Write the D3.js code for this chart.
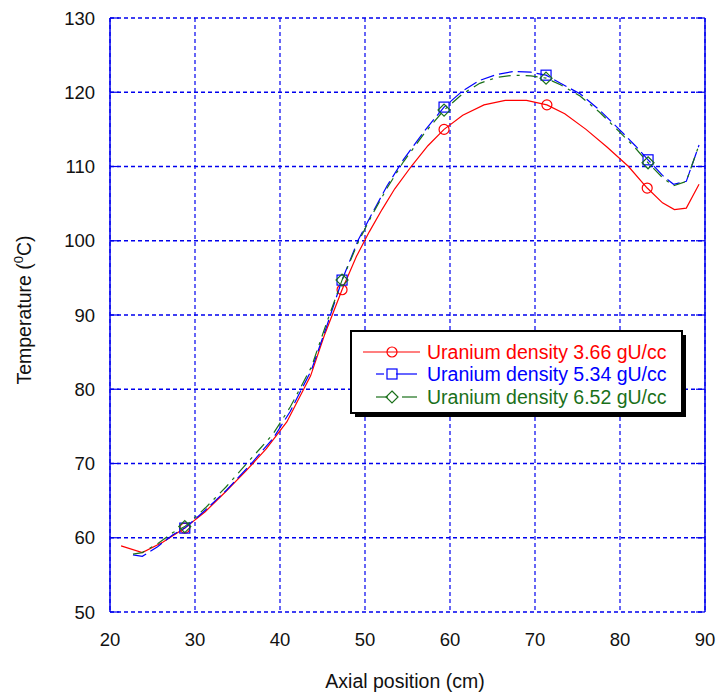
<!DOCTYPE html>
<html>
<head>
<meta charset="utf-8">
<script src="https://cdn.jsdelivr.net/npm/d3@7"></script>
<style>
  body { margin: 0; background: #fff; }
  svg { font-family: Arial, "Liberation Sans", sans-serif; }
</style>
</head>
<body>
<svg id="chart" width="721" height="693"></svg>
<script>
// series: [axial position cm, temperature C]
const red366 = [
  [21.3, 58.9], [23.8, 58.0], [26.2, 59.4], [28.8, 61.3], [31.2, 63.5],
  [33.6, 66.2], [36.0, 69.0], [38.4, 72.0], [40.8, 75.6], [43.6, 81.8],
  [45.2, 87.2], [47.3, 93.4], [49.0, 97.9], [50.5, 101.2], [52.0, 104.2],
  [53.5, 107.0], [55.5, 110.1], [57.4, 112.8], [59.3, 115.0], [61.5, 116.9],
  [64.0, 118.3], [66.5, 118.9], [69.0, 118.9], [71.4, 118.3], [73.5, 117.1],
  [76.0, 115.0], [78.5, 112.6], [81.0, 110.0], [83.2, 107.1], [85.0, 105.1],
  [86.4, 104.2], [87.8, 104.4], [89.3, 107.6]
];
const blue534 = [
  [22.7, 57.7], [23.8, 57.5], [25.6, 58.8], [27.4, 60.4], [28.8, 61.3],
  [31.2, 63.7], [33.7, 66.4], [36.4, 69.7], [39.2, 73.4], [41.2, 77.0],
  [43.7, 82.6], [45.5, 88.5], [47.3, 94.7], [49.2, 100.1], [50.8, 103.6],
  [52.6, 107.4], [54.5, 110.9], [57.0, 114.8], [59.3, 118.0], [61.5, 120.2],
  [63.5, 121.6], [65.5, 122.4], [67.5, 122.8], [69.5, 122.7], [71.3, 122.3],
  [73.0, 121.2], [75.3, 119.8], [77.6, 117.6], [80.0, 114.9], [81.8, 112.8],
  [83.3, 110.9], [85.0, 108.8], [86.3, 107.6], [87.8, 108.0], [89.3, 112.9]
];
const green652 = [
  [22.7, 57.8], [23.8, 58.0], [25.6, 59.2], [27.4, 60.7], [28.8, 61.5],
  [31.2, 64.0], [33.7, 66.9], [36.4, 70.4], [39.2, 74.0], [41.2, 77.6],
  [43.7, 83.0], [45.5, 89.0], [47.3, 94.7], [49.2, 99.8], [50.8, 103.4],
  [52.6, 107.1], [54.5, 110.6], [57.0, 114.5], [59.3, 117.6], [61.5, 119.8],
  [63.5, 121.2], [65.5, 122.0], [67.5, 122.3], [69.5, 122.2], [71.3, 121.9],
  [73.0, 121.0], [75.3, 119.5], [77.6, 117.3], [80.0, 114.6], [81.8, 112.5],
  [83.3, 110.5], [85.0, 108.5], [86.3, 107.4], [87.8, 108.0], [89.3, 112.9]
];
// positions carrying a marker
const markerX = [28.8, 47.3, 59.3, 71.3, 83.3];

const xTicks = [20, 30, 40, 50, 60, 70, 80, 90];
const yTicks = [50, 60, 70, 80, 90, 100, 110, 120, 130];
const legendLabels = ["Uranium density 3.66 gU/cc", "Uranium density 5.34 gU/cc", "Uranium density 6.52 gU/cc"];

const svg = d3.select("#chart");
const plotLeft = 110, plotRight = 705, plotTop = 18, plotBottom = 612;
const gridBlue = "#0000ee";

const x = d3.scaleLinear().domain([20, 90]).range([plotLeft, plotRight]);
const y = d3.scaleLinear().domain([50, 130]).range([plotBottom, plotTop]);

// grid
const grid = svg.append("g");
grid.selectAll(".gx").data(xTicks).enter().append("line")
  .attr("x1", d => x(d)).attr("x2", d => x(d))
  .attr("y1", plotTop).attr("y2", plotBottom)
  .attr("stroke", gridBlue).attr("stroke-width", 1.2)
  .attr("stroke-dasharray", "4,3");
grid.selectAll(".gy").data(yTicks).enter().append("line")
  .attr("x1", plotLeft).attr("x2", plotRight)
  .attr("y1", d => y(d)).attr("y2", d => y(d))
  .attr("stroke", gridBlue).attr("stroke-width", 1.4)
  .attr("stroke-dasharray", "4,3");

// solid side spines with inward ticks
grid.append("line").attr("x1", plotLeft).attr("x2", plotLeft).attr("y1", plotTop).attr("y2", plotBottom)
  .attr("stroke", gridBlue).attr("stroke-width", 1.5);
grid.append("line").attr("x1", plotRight).attr("x2", plotRight).attr("y1", plotTop).attr("y2", plotBottom)
  .attr("stroke", gridBlue).attr("stroke-width", 1.5);
grid.selectAll(".tl").data(yTicks).enter().append("line")
  .attr("x1", plotLeft).attr("x2", plotLeft + 9)
  .attr("y1", d => y(d)).attr("y2", d => y(d))
  .attr("stroke", gridBlue).attr("stroke-width", 1.2);
grid.selectAll(".tr").data(yTicks).enter().append("line")
  .attr("x1", plotRight - 9).attr("x2", plotRight)
  .attr("y1", d => y(d)).attr("y2", d => y(d))
  .attr("stroke", gridBlue).attr("stroke-width", 1.2);

// tick labels
svg.append("g").selectAll("text").data(yTicks).enter().append("text")
  .attr("x", 95).attr("y", d => y(d) + 6.5)
  .attr("text-anchor", "end").attr("font-size", 18.5).attr("fill", "#111")
  .text(d => d);
svg.append("g").selectAll("text").data(xTicks).enter().append("text")
  .attr("x", d => x(d)).attr("y", 646)
  .attr("text-anchor", "middle").attr("font-size", 18.5).attr("fill", "#111")
  .text(d => d);

// axis titles
svg.append("text")
  .attr("x", 405).attr("y", 688)
  .attr("text-anchor", "middle").attr("font-size", 19.5).attr("fill", "#111")
  .text("Axial position (cm)");
const yTitle = svg.append("text")
  .attr("transform", "translate(31,310) rotate(-90)")
  .attr("text-anchor", "middle").attr("font-size", 19.5).attr("fill", "#111");
yTitle.append("tspan").text("Temperature (");
yTitle.append("tspan").attr("font-size", 13).attr("dy", -8).text("0");
yTitle.append("tspan").attr("dy", 8).text("C)");

// series
const series = [
  { data: red366, color: "#ff0000", dash: null, marker: "circle" },
  { data: blue534, color: "#0000ff", dash: "14,5", marker: "square" },
  { data: green652, color: "#1a701a", dash: "12,6,3,6", marker: "diamond" }
];

const line = d3.line().x(d => x(d[0])).y(d => y(d[1]));

function drawMarker(g, kind, cx, cy, color) {
  if (kind === "circle") {
    g.append("circle").attr("cx", cx).attr("cy", cy).attr("r", 5)
      .attr("fill", "none").attr("stroke", color).attr("stroke-width", 1.2);
  } else if (kind === "square") {
    g.append("rect").attr("x", cx - 5).attr("y", cy - 5).attr("width", 10).attr("height", 10)
      .attr("fill", "none").attr("stroke", color).attr("stroke-width", 1.2);
  } else {
    g.append("path").attr("d", `M${cx},${cy - 6}L${cx + 6},${cy}L${cx},${cy + 6}L${cx - 6},${cy}Z`)
      .attr("fill", "none").attr("stroke", color).attr("stroke-width", 1.2);
  }
}

const plot = svg.append("g");
series.forEach(s => {
  plot.append("path").datum(s.data)
    .attr("d", line)
    .attr("fill", "none")
    .attr("stroke", s.color)
    .attr("stroke-width", 1.2)
    .attr("stroke-dasharray", s.dash);
  markerX.forEach(mx => {
    const pt = s.data.find(p => Math.abs(p[0] - mx) < 0.3);
    if (pt) drawMarker(plot, s.marker, x(pt[0]), y(pt[1]), s.color);
  });
});

// legend
const lg = svg.append("g");
lg.append("rect").attr("x", 355).attr("y", 335).attr("width", 331).attr("height", 82).attr("fill", "#000");
lg.append("rect").attr("x", 351).attr("y", 331).attr("width", 331).attr("height", 82)
  .attr("fill", "#fff").attr("stroke", "#000").attr("stroke-width", 2);
const rows = [352, 374, 397];
series.forEach((s, i) => {
  const ry = rows[i];
  if (i === 0) {
    lg.append("line").attr("x1", 363).attr("x2", 420).attr("y1", ry).attr("y2", ry)
      .attr("stroke", s.color).attr("stroke-width", 1.2);
  } else {
    lg.append("line").attr("x1", 376).attr("x2", i === 1 ? 384 : 388).attr("y1", ry).attr("y2", ry)
      .attr("stroke", s.color).attr("stroke-width", 1.2);
    lg.append("line").attr("x1", i === 1 ? 396 : 402).attr("x2", 417).attr("y1", ry).attr("y2", ry)
      .attr("stroke", s.color).attr("stroke-width", 1.2);
  }
  drawMarker(lg, s.marker, 392, ry, s.color);
  lg.append("text").attr("x", 427).attr("y", ry + 7)
    .attr("font-size", 19.5).attr("fill", s.color)
    .text(legendLabels[i]);
});
</script>
</body>
</html>
